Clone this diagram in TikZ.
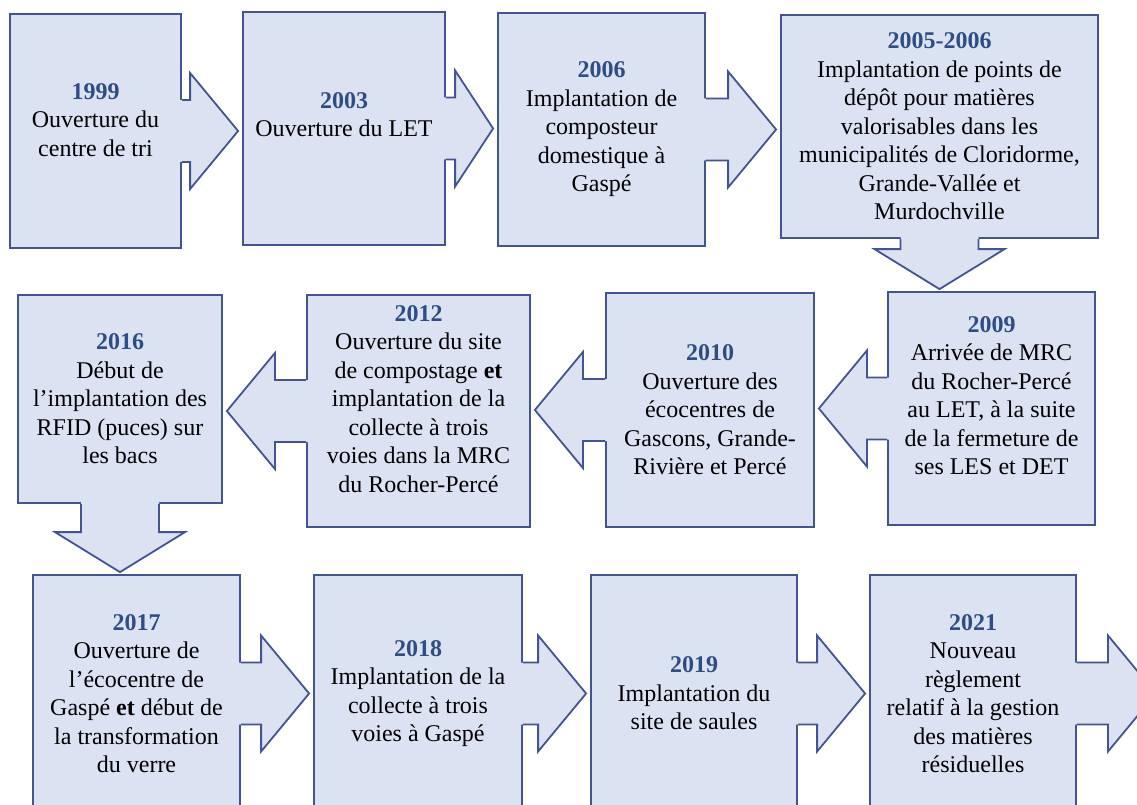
\documentclass[tikz,border=0pt]{standalone}
\usepackage{fontspec}
\setmainfont{Liberation Serif}
\usetikzlibrary{calc}
\definecolor{boxline}{RGB}{66,84,146}
\definecolor{boxfill}{RGB}{219,227,243}
\definecolor{yearblue}{RGB}{47,77,133}
\newcommand{\yearlbl}[1]{\textcolor{yearblue}{\textbf{#1}}}
% arrow tabs stuck to the boxes
\newcommand{\tabright}[3][48]{%
  \fill[boxfill] let \p1=(#2.east), \p2=(#3.west) in
    (\x1-2pt,\y1+31pt) -- (\x2-#1pt-4pt,\y1+31pt) -- (\x2-#1pt-4pt,\y1+58pt) -- (\x2-4pt,\y1)
    -- (\x2-#1pt-4pt,\y1-58pt) -- (\x2-#1pt-4pt,\y1-31pt) -- (\x1-2pt,\y1-31pt) -- cycle;
  \draw[tabline] let \p1=(#2.east), \p2=(#3.west) in
    (\x1,\y1+31pt) -- (\x2-#1pt-4pt,\y1+31pt) -- (\x2-#1pt-4pt,\y1+58pt) -- (\x2-4pt,\y1)
    -- (\x2-#1pt-4pt,\y1-58pt) -- (\x2-#1pt-4pt,\y1-31pt) -- (\x1,\y1-31pt);}
\newcommand{\tableft}[2]{%
  \fill[boxfill] let \p1=(#1.west), \p2=(#2.east) in
    (\x1+2pt,\y1+31pt) -- (\x2+52pt,\y1+31pt) -- (\x2+52pt,\y1+58pt) -- (\x2+4pt,\y1)
    -- (\x2+52pt,\y1-58pt) -- (\x2+52pt,\y1-31pt) -- (\x1+2pt,\y1-31pt) -- cycle;
  \draw[tabline] let \p1=(#1.west), \p2=(#2.east) in
    (\x1,\y1+31pt) -- (\x2+52pt,\y1+31pt) -- (\x2+52pt,\y1+58pt) -- (\x2+4pt,\y1)
    -- (\x2+52pt,\y1-58pt) -- (\x2+52pt,\y1-31pt) -- (\x1,\y1-31pt);}
\newcommand{\tabdown}[2]{%
  \fill[boxfill] let \p1=(#1.south), \p2=(#2.north) in
    (\x1-39pt,\y1+2pt) -- (\x1-39pt,\y2+42pt) -- (\x1-65pt,\y2+42pt) -- (\x1,\y2+2pt)
    -- (\x1+65pt,\y2+42pt) -- (\x1+39pt,\y2+42pt) -- (\x1+39pt,\y1+2pt) -- cycle;
  \draw[tabline] let \p1=(#1.south), \p2=(#2.north) in
    (\x1-39pt,\y1) -- (\x1-39pt,\y2+42pt) -- (\x1-65pt,\y2+42pt) -- (\x1,\y2+2pt)
    -- (\x1+65pt,\y2+42pt) -- (\x1+39pt,\y2+42pt) -- (\x1+39pt,\y1);}

\begin{document}
\begin{tikzpicture}[x=1pt,y=-1pt,
    box/.style={draw=boxline,fill=boxfill,line width=1.8pt,inner sep=0pt,
      align=center,font=\fontsize{24}{28.5}\selectfont},
    lift/.style={text depth=#1},
    tabline/.style={draw=boxline,line width=1.8pt}]
   \fill[white] (0,0) rectangle (1137,805);
   \useasboundingbox (0,0) rectangle (1137,805);

   % first row
   \node[box,lift=22pt,minimum width=171pt,minimum height=234pt] (y1999) at (95.5,131)
     {\yearlbl{1999}\\Ouverture du\\centre de tri};
   \node[box,lift=28pt,minimum width=202pt,minimum height=233pt] (y2003) at (344,128.5)
     {\yearlbl{2003}\\Ouverture du LET};
   \node[box,minimum width=207pt,minimum height=233pt] (y2006) at (601.5,129.5)
     {\yearlbl{2006}\\Implantation de\\composteur\\domestique à\\Gaspé};
   \node[box,minimum width=317pt,minimum height=223pt] (y2005) at (939.5,126.5)
     {\yearlbl{2005-2006}\\Implantation de points de\\dépôt pour matières\\valorisables dans les\\municipalités de Cloridorme,\\Grande-Vallée et\\Murdochville};

   % second row
   \node[box,lift=26pt,minimum width=207pt,minimum height=233pt] (y2009) at (991.5,408.5)
     {\yearlbl{2009}\\Arrivée de MRC\\du Rocher-Percé\\au LET, à la suite\\de la fermeture de\\ses LES et DET};
   \node[box,minimum width=208pt,minimum height=234pt] (y2010) at (710,410)
     {\yearlbl{2010}\\Ouverture des\\écocentres de\\Gascons, Grande-\\Rivière et Percé};
   \node[box,lift=24pt,minimum width=223pt,minimum height=232pt] (y2012) at (418.5,411)
     {\yearlbl{2012}\\Ouverture du site\\de compostage \textbf{et}\\implantation de la\\collecte à trois\\voies dans la MRC\\du Rocher-Percé};
   \node[box,minimum width=204pt,minimum height=208pt] (y2016) at (120,399)
     {\yearlbl{2016}\\Début de\\l’implantation des\\RFID (puces) sur\\les bacs};

   % third row
   \node[box,minimum width=207pt,minimum height=237pt] (y2017) at (136.5,693.5)
     {\yearlbl{2017}\\Ouverture de\\l’écocentre de\\Gaspé \textbf{et} début de\\la transformation\\du verre};
   \node[box,minimum width=208pt,minimum height=237pt] (y2018) at (418,693.5)
     {\yearlbl{2018}\\Implantation de la\\collecte à trois\\voies à Gaspé};
   \node[box,minimum width=206pt,minimum height=237pt] (y2019) at (694,693.5)
     {\yearlbl{2019}\\Implantation du\\site de saules};
   \node[box,minimum width=206pt,minimum height=237pt] (y2021) at (973,693.5)
     {\yearlbl{2021}\\Nouveau\\règlement\\relatif à la gestion\\des matières\\résiduelles};
   \coordinate (suite) at (1160,693.5);

   \tabright{y1999}{y2003}
   \tabright[38]{y2003}{y2006}
   \tabright{y2006}{y2005}
   \tabdown{y2005}{y2009}
   \tableft{y2009}{y2010}
   \tableft{y2010}{y2012}
   \tableft{y2012}{y2016}
   \tabdown{y2016}{y2017}
   \tabright{y2017}{y2018}
   \tabright{y2018}{y2019}
   \tabright{y2019}{y2021}
   \tabright{y2021}{suite}
\end{tikzpicture}
\end{document}
